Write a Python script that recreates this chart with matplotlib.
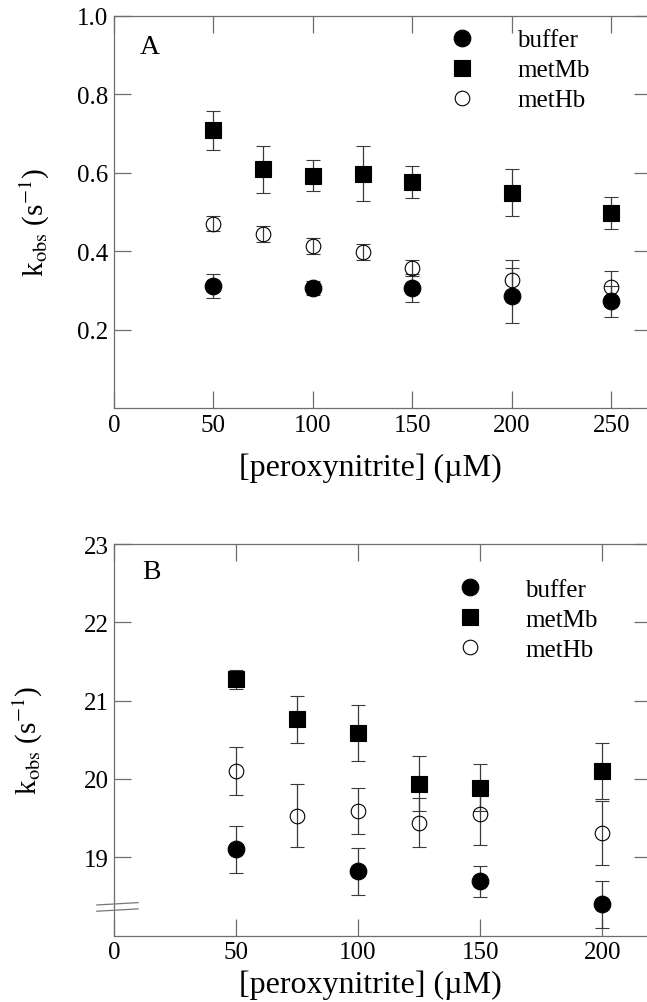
import numpy as np
import matplotlib
matplotlib.use("Agg")
from matplotlib import pyplot as plt

plt.rcParams["font.family"] = ["Liberation Serif", "DejaVu Serif"]
plt.rcParams["mathtext.fontset"] = "stix"

# panel A data (k_obs in s^-1)
a_buffer_x = [50, 100, 150, 200, 250]
a_buffer_y = [0.311, 0.306, 0.306, 0.286, 0.272]
a_buffer_err = [0.03, 0.018, 0.035, 0.07, 0.04]
a_metmb_x = [50, 75, 100, 125, 150, 200, 250]
a_metmb_y = [0.708, 0.608, 0.592, 0.597, 0.576, 0.549, 0.497]
a_metmb_err = [0.05, 0.06, 0.04, 0.07, 0.04, 0.06, 0.04]
a_methb_x = [50, 75, 100, 125, 150, 200, 250]
a_methb_y = [0.470, 0.444, 0.413, 0.398, 0.357, 0.327, 0.308]
a_methb_err = [0.02, 0.02, 0.02, 0.02, 0.02, 0.05, 0.04]

# panel B data
b_buffer_x = [50, 100, 150, 200]
b_buffer_y = [19.10, 18.82, 18.69, 18.40]
b_buffer_err = [0.30, 0.30, 0.20, 0.30]
b_metmb_x = [50, 75, 100, 125, 150, 200]
b_metmb_y = [21.27, 20.76, 20.59, 19.94, 19.89, 20.10]
b_metmb_err = [0.12, 0.30, 0.36, 0.35, 0.30, 0.36]
b_methb_x = [50, 75, 100, 125, 150, 200]
b_methb_y = [20.10, 19.53, 19.59, 19.44, 19.55, 19.31]
b_methb_err = [0.31, 0.40, 0.29, 0.31, 0.40, 0.41]

labels = ["buffer", "metMb", "metHb"]
a_xticks = [0, 50, 100, 150, 200, 250]
a_yticks = [0.2, 0.4, 0.6, 0.8, 1.0]
b_xticks = [0, 50, 100, 150, 200]
b_yticks = [19, 20, 21, 22, 23]

ERR_COLOR = "#3a3a3a"
SPINE_COLOR = "#6e6e6e"


def draw_series(ax, x, y, err, marker, filled, ms, label):
    cont = ax.errorbar(x, y, yerr=err, fmt=marker, ms=ms,
                       mfc="black" if filled else "none", mec="black",
                       mew=0.8, ecolor=ERR_COLOR, elinewidth=0.9,
                       capsize=5, capthick=0.9, zorder=3)
    # only the marker goes into the legend, not the error bar
    cont[0].set_label(label)
    return cont[0]


def style_axes(ax, xticks, yticks, xlim, ylim):
    ax.set_xlim(*xlim)
    ax.set_ylim(*ylim)
    ax.set_xticks(xticks)
    ax.set_yticks(yticks)
    ax.tick_params(direction="in", length=12, width=0.9, color=SPINE_COLOR,
                   top=True, right=True, labelsize=18, pad=4)
    for sp in ax.spines.values():
        sp.set_color(SPINE_COLOR)
        sp.set_linewidth(0.9)
    ax.set_ylabel(r"k$_{\rm obs}$ (s$^{-1}$)", fontsize=21)
    ax.set_xlabel("[peroxynitrite] (\u00b5M)", fontsize=23)
    ax.xaxis.label.set_va("center")
    ax.yaxis.label.set_va("center")


fig = plt.figure(figsize=(6.47, 10.03), dpi=100)
ax_a = fig.add_axes([0.1762, 0.5922, 0.830, 0.3913])
ax_b = fig.add_axes([0.1762, 0.0663, 0.830, 0.3903])

# panel A
handles_a = [
    draw_series(ax_a, a_buffer_x, a_buffer_y, a_buffer_err, "o", True, 12, labels[0]),
    draw_series(ax_a, a_metmb_x, a_metmb_y, a_metmb_err, "s", True, 12, labels[1]),
    draw_series(ax_a, a_methb_x, a_methb_y, a_methb_err, "o", False, 10.5, labels[2]),
]
style_axes(ax_a, a_xticks, a_yticks, (0, 270), (0, 1.0))
ax_a.set_yticklabels([f"{v:.1f}" for v in a_yticks])
ax_a.xaxis.set_label_coords(0.477, -0.150)
ax_a.yaxis.set_label_coords(-0.147, 0.476)
ax_a.text(0.048, 0.922, "A", transform=ax_a.transAxes, fontsize=20, va="center")

# panel B
handles_b = [
    draw_series(ax_b, b_buffer_x, b_buffer_y, b_buffer_err, "o", True, 12, labels[0]),
    draw_series(ax_b, b_metmb_x, b_metmb_y, b_metmb_err, "s", True, 12, labels[1]),
    draw_series(ax_b, b_methb_x, b_methb_y, b_methb_err, "o", False, 10.5, labels[2]),
]
style_axes(ax_b, b_xticks, b_yticks, (0, 220), (18, 23))
ax_b.xaxis.set_label_coords(0.477, -0.124)
ax_b.yaxis.set_label_coords(-0.160, 0.5)
ax_b.text(0.052, 0.931, "B", transform=ax_b.transAxes, fontsize=20, va="center")

# axis break marks on the left spine of panel B
brk = ax_b.get_yaxis_transform()
for y0 in [18.39, 18.31]:
    ax_b.plot([-0.032, 0.045], [y0, y0 + 0.03], color="#777777", lw=0.9,
              transform=brk, clip_on=False, zorder=5)

for ax, handles, anchor in [(ax_a, handles_a, (0.625, 0.966)),
                            (ax_b, handles_b, (0.640, 0.912))]:
    ax.legend(handles=handles, loc="upper left", bbox_to_anchor=anchor,
              frameon=False, fontsize=18, handlelength=1.0, handletextpad=1.7,
              labelspacing=0.3, borderpad=0, borderaxespad=0)

fig.savefig("out.png", dpi=100)
plt.close(fig)
